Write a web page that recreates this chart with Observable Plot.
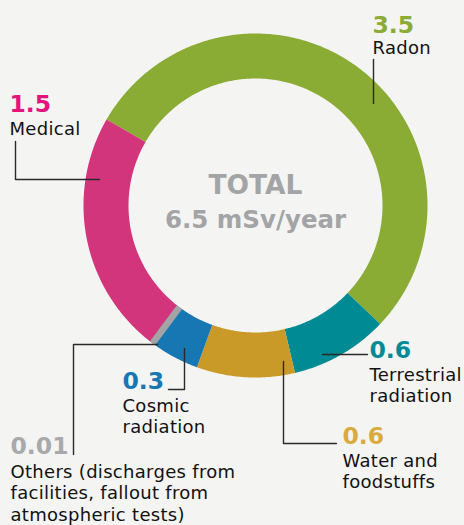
<!DOCTYPE html>
<html><head><meta charset="utf-8">
<script src="https://cdn.jsdelivr.net/npm/d3@7"></script>
<script src="https://cdn.jsdelivr.net/npm/@observablehq/plot@0.6"></script>
<style>
html,body{margin:0;padding:0;background:#f4f4f3;}
#chart svg{display:block;}
</style></head><body><div id="chart"></div>
<script>
// ---- data ----
const sources = ["Radon", "Terrestrial\nradiation", "Water and\nfoodstuffs", "Cosmic\nradiation",
  "Others (discharges from\nfacilities, fallout from\natmospheric tests)", "Medical"];
const doses = [3.5, 0.6, 0.6, 0.3, 0.01, 1.5];
const doseLabels = ["3.5", "0.6", "0.6", "0.3", "0.01", "1.5"];
const totalLines = ["TOTAL", "6.5 mSv/year"];

// ---- styles / layout ----
const sliceColors = ["#8aab34", "#008a93", "#c99a27", "#1777b2", "#a3a4a6", "#d3357d"];
const numberColors = ["#8aab34", "#008a93", "#d9aa3e", "#1777b2", "#a8a9ab", "#e5137e"];
const W = 464, H = 525, CX = 255, CY = 205, R = 172, RIN = 127;
const startDeg = -60;
const labelLayout = [
  {x: 372, numY: 32, textY: 53},
  {x: 369, numY: 357, textY: 380},
  {x: 342, numY: 443, textY: 466},
  {x: 122, numY: 388, textY: 411},
  {x: 10, numY: 453, textY: 477},
  {x: 9, numY: 111, textY: 134}
];
const lineGap = 21.5;
const leaders = [
  [[373, 59], [373, 103]],
  [[322, 354], [367, 354]],
  [[283, 361], [283, 443], [336, 443]],
  [[184, 348], [184, 389], [168, 389]],
  [[73, 454], [73, 344], [157, 344]],
  [[15, 141], [15, 179], [99, 179]]
];

const ux = px => (px - CX) / R;
const uy = py => (CY - py) / R;
const rIn = RIN / R;

// slices from d3.pie (clockwise from north)
const pie = d3.pie().sort(null).startAngle(startDeg * Math.PI / 180).endAngle((startDeg + 360) * Math.PI / 180);
const arcs = pie(doses);
const slicePts = arcs.map(a => {
  const pts = [];
  const n = Math.max(2, Math.ceil((a.endAngle - a.startAngle) / (Math.PI / 360)));
  for (let k = 0; k <= n; k++) {
    const t = a.startAngle + (a.endAngle - a.startAngle) * k / n;
    pts.push({x: Math.sin(t), y: Math.cos(t)});
  }
  for (let k = n; k >= 0; k--) {
    const t = a.startAngle + (a.endAngle - a.startAngle) * k / n;
    pts.push({x: rIn * Math.sin(t), y: rIn * Math.cos(t)});
  }
  return pts;
});
// tiny slices get a minimum visible width (radial bar at their mid angle)
const tinySlices = arcs.map((a, i) => ({a, i})).filter(({a}) => a.data < 0.05).map(({a, i}) => {
  const t = (a.startAngle + a.endAngle) / 2;
  return {x1: rIn * Math.sin(t), y1: rIn * Math.cos(t), x2: Math.sin(t), y2: Math.cos(t), color: sliceColors[i]};
});

const numRows = [], txtRows = [];
sources.forEach((s, i) => {
  const L = labelLayout[i];
  numRows.push({x: ux(L.x), y: uy(L.numY), text: doseLabels[i], color: numberColors[i]});
  s.split("\n").forEach((line, j) => {
    txtRows.push({x: ux(L.x), y: uy(L.textY + j * lineGap), text: line});
  });
});
const leaderRows = leaders.flatMap((pts, i) => pts.map(([px, py]) => ({x: ux(px), y: uy(py), k: i})));

const sans = "'DejaVu Sans', sans-serif";
const marks = [];
slicePts.forEach((pts, i) => {
  marks.push(Plot.line(pts, {x: "x", y: "y", curve: "linear-closed", fill: sliceColors[i], stroke: "none"}));
});
marks.push(Plot.link(tinySlices, {x1: "x1", y1: "y1", x2: "x2", y2: "y2", stroke: d => d.color,
  strokeWidth: 6.5, strokeLinecap: "butt"}));
marks.push(Plot.line(leaderRows, {x: "x", y: "y", z: "k", stroke: "#2a2a2a", strokeWidth: 1.4}));
marks.push(Plot.text(numRows, {x: "x", y: "y", text: "text", fill: d => d.color,
  textAnchor: "start", lineAnchor: "bottom", fontSize: 23.5, fontWeight: "bold", fontFamily: sans}));
marks.push(Plot.text(txtRows, {x: "x", y: "y", text: "text", fill: "#111",
  textAnchor: "start", lineAnchor: "bottom", fontSize: 18, fontFamily: sans}));
marks.push(Plot.text(totalLines, {x: () => 0, y: (d, i) => uy([193, 227][i]), text: d => d, fill: "#a3a4a6",
  textAnchor: "middle", lineAnchor: "bottom", fontSize: (d, i) => [26.5, 24.5][i], fontWeight: "bold", fontFamily: sans}));

const chart = Plot.plot({
  width: W, height: H, margin: 0,
  x: {domain: [ux(0), ux(W)], axis: null},
  y: {domain: [uy(H), uy(0)], axis: null},
  style: {background: "transparent", overflow: "visible"},
  marks
});
// widen the body-text tracking a little
d3.select(chart).selectAll("text").filter(function() {
  return this.getAttribute("fill") === "#111" || (this.parentNode && this.parentNode.getAttribute("fill") === "#111");
}).style("letter-spacing", "0.3px");
document.getElementById("chart").appendChild(chart);
</script></body></html>
